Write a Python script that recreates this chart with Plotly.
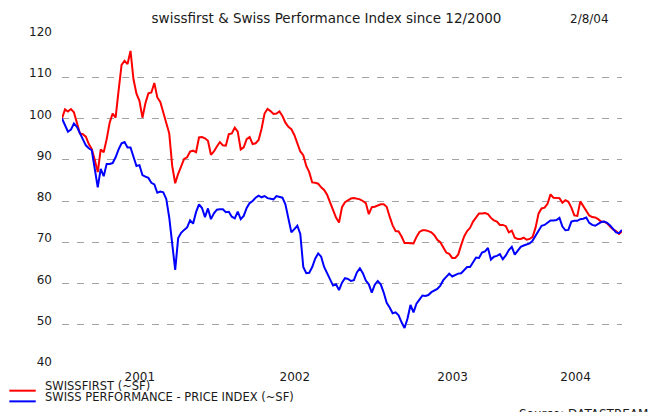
import plotly.graph_objects as go
import pandas as pd

# ---- data (weekly) ----
start_date = "2000-12-22"
swissfirst = [
    100, 102.2, 101.7, 102.3, 101.5, 99, 96.4, 96.2, 95.6, 93.8,
    92.6, 90, 87, 92.5, 91.8, 95, 99, 101.2, 100.2, 106.8,
    113, 114, 113.2, 116.4, 109.5, 106, 104.3, 100.2, 103.7, 106.1,
    106.3, 108.6, 105.1, 104, 101.6, 99.2, 96.4, 88.5, 84.3, 86.6,
    88.5, 90.2, 90.6, 92, 92.2, 91.8, 95.4, 95.5, 95.2, 94.6,
    91.2, 92, 93.2, 94.3, 93.5, 93.4, 96.2, 96.4, 97.8, 96.8,
    92.5, 93, 95, 95.5, 93.8, 94, 94.8, 97.5, 101.2, 102.3,
    101.8, 101.1, 101.2, 101.7, 100.6, 99, 98, 97.4, 96, 94.1,
    92, 91.1, 88.5, 87, 84.5, 84.4, 84.2, 83.3, 82.7, 81.5,
    79.5, 77.7, 76, 74.8, 78.5, 79.7, 80.2, 80.6, 80.7, 80.6,
    80.4, 80, 79.5, 76.8, 78.5, 78.6, 79, 79.2, 79.2, 78.6,
    76.2, 74.1, 72.7, 72.6, 71.4, 69.8, 69.8, 69.7, 69.7, 71.3,
    72.5, 72.9, 72.9, 72.7, 72.4, 71.7, 70.6, 70, 68.7, 67.5,
    67.2, 66.2, 66.2, 67, 69.3, 71.4, 72.7, 73.5, 75, 76.1,
    77, 77, 77.1, 76.8, 75.9, 75.3, 75, 74.2, 74.2, 73.9,
    72.4, 72.8, 71.1, 70.8, 70.8, 71.1, 70.6, 70.8, 71.3, 73.6,
    77, 78.2, 78.4, 79.3, 81.6, 80.8, 80.8, 80.7, 79.6, 80.2,
    79.8, 78.4, 76.5, 76.4, 79.9, 78.8, 77.4, 76.5, 76.1, 76,
    75.6, 75, 75, 74.6, 73.8, 73.1, 72.7, 72, 72.6,
]
spi = [
    100, 98.2, 96.8, 97.3, 98.8, 98, 96.5, 95, 93.5, 92.8,
    92.3, 87.8, 83.3, 87.8, 86, 89, 89, 89.2, 90.6, 92.5,
    94, 94.3, 93, 93, 90.6, 88.5, 88.7, 86.3, 85.9, 85.6,
    84.4, 84, 82, 82.3, 82.1, 80.5, 76, 69, 63.3, 71,
    72.3, 73, 73.6, 75.3, 74.5, 77.3, 79.2, 78.3, 76.1, 78.2,
    75.6, 77, 77.9, 78, 78, 77.3, 77.4, 76.2, 75.8, 77.4,
    75.6, 76.4, 78.3, 79.5, 80, 80.8, 81.3, 80.9, 81.2, 80.7,
    80.6, 80.4, 81.2, 81, 80.8, 79.2, 75.7, 72.4, 73.2, 74,
    72, 64, 62.5, 62.6, 64, 66, 67.3, 66.5, 64, 62.5,
    60.6, 59.5, 59.8, 58.4, 60.2, 61.3, 61.1, 60.6, 60.8, 62.7,
    63.7, 62.5, 60.7, 59.8, 57.8, 59.7, 60.6, 59.8, 57.8, 55.3,
    54.2, 52.8, 53, 52.3, 50.6, 49.2, 51.5, 54.8, 53, 55.1,
    56.1, 57.1, 57, 57.2, 57.9, 58.3, 58.7, 59.5, 60.8, 61.6,
    62.4, 61.7, 62, 62.4, 62.5, 63.3, 64, 64, 65.3, 66.3,
    66.2, 67.5, 67.8, 68.6, 65.8, 66.5, 66.7, 67.1, 65.9, 66.8,
    68.1, 68.9, 67, 68.1, 68.9, 69.2, 69.4, 69.7, 70.4, 71.7,
    72.9, 74, 74.2, 74.7, 75.3, 75.3, 75.4, 75.9, 73.8, 72.9,
    73, 75, 75.2, 75.2, 75.6, 75.7, 76, 74.7, 74.2, 74,
    74.5, 74.9, 75, 74.7, 74.1, 73.2, 72.4, 72.2, 73,
]
dates = pd.date_range(start_date, periods=len(swissfirst), freq="7D")

series_names = ["SWISSFIRST (~SF)", "SWISS PERFORMANCE - PRICE INDEX (~SF)"]
series_colors = ["#ff0000", "#0000ff"]

year_labels = ["2001", "2002", "2003", "2004"]
year_label_dates = ["2001-06-23", "2002-06-22", "2003-06-28", "2004-04-12"]
y_tick_values = [40, 50, 60, 70, 80, 90, 100, 110, 120]
y_grid_values = [50, 60, 70, 80, 90, 100, 110]

title_text = "swissfirst & Swiss Performance Index since 12/2000"
date_text = "2/8/04"
source_text = "Source: DATASTREAM"

# ---- layout geometry (pixels) ----
W, H = 653, 412
L, R, T, B = 62, 30.6, 36, 45.7
PW, PH = W - L - R, H - T - B
FONT = "DejaVu Sans, Verdana, sans-serif"
TXT = "#1a1a1a"


def px_x(px):
    return (px - L) / PW


def px_y(py):
    return (H - B - py) / PH


fig = go.Figure()
for vals, name, col in zip([swissfirst, spi], series_names, series_colors):
    fig.add_trace(go.Scatter(x=dates, y=vals, mode="lines", name=name,
                             line=dict(color=col, width=2), showlegend=False))

fig.update_layout(
    width=W, height=H,
    margin=dict(l=L, r=R, t=T, b=B, pad=0, autoexpand=False),
    paper_bgcolor="white", plot_bgcolor="white",
    font=dict(family=FONT, size=12, color=TXT),
    title=dict(text=title_text, x=0.5, xref="container", xanchor="center",
               y=1 - 18.5 / H, yref="container", yanchor="middle",
               font=dict(size=13.5, color=TXT)),
)
fig.update_xaxes(
    type="date", range=[dates[0], dates[-1]], automargin=False,
    tickvals=year_label_dates, ticktext=year_labels,
    showgrid=False, zeroline=False, showline=False, ticks="",
    tickfont=dict(size=12, color=TXT), ticklabelstandoff=2,
)
fig.update_yaxes(
    range=[40, 120], tickvals=y_tick_values, automargin=False,
    showgrid=False, zeroline=False, showline=False, ticks="",
    tickfont=dict(size=12, color=TXT), ticklabelstandoff=9, ticklabelshift=-4,
    minor=dict(tickvals=y_grid_values, showgrid=True, gridcolor="#a3a3a3",
               gridwidth=1.3, griddash="7px,8px", ticks=""),
)

# manual legend
legend_rows = [391, 401.7]
legend_text_rows = [386.5, 397.5]
for name, col, ly, ty in zip(series_names, series_colors, legend_rows, legend_text_rows):
    fig.add_shape(type="line", xref="paper", yref="paper",
                  x0=px_x(9.3), x1=px_x(35.7), y0=px_y(ly), y1=px_y(ly),
                  line=dict(color=col, width=2))
    fig.add_annotation(text=name, xref="paper", yref="paper",
                       x=px_x(43), y=px_y(ty), xanchor="left", yanchor="middle",
                       showarrow=False, font=dict(size=11.5, color=TXT))

fig.add_annotation(text=date_text, xref="paper", yref="paper",
                   x=px_x(590), y=px_y(19), xanchor="center", yanchor="middle",
                   showarrow=False, font=dict(size=12, color=TXT))
fig.add_annotation(text=source_text, xref="paper", yref="paper",
                   x=px_x(517), y=px_y(405), xanchor="left", yanchor="top",
                   showarrow=False, font=dict(size=12, color=TXT))

fig.write_html("out.html",
               config={"displayModeBar": False},
               post_script="document.body.style.margin='0';document.body.style.padding='0';")
